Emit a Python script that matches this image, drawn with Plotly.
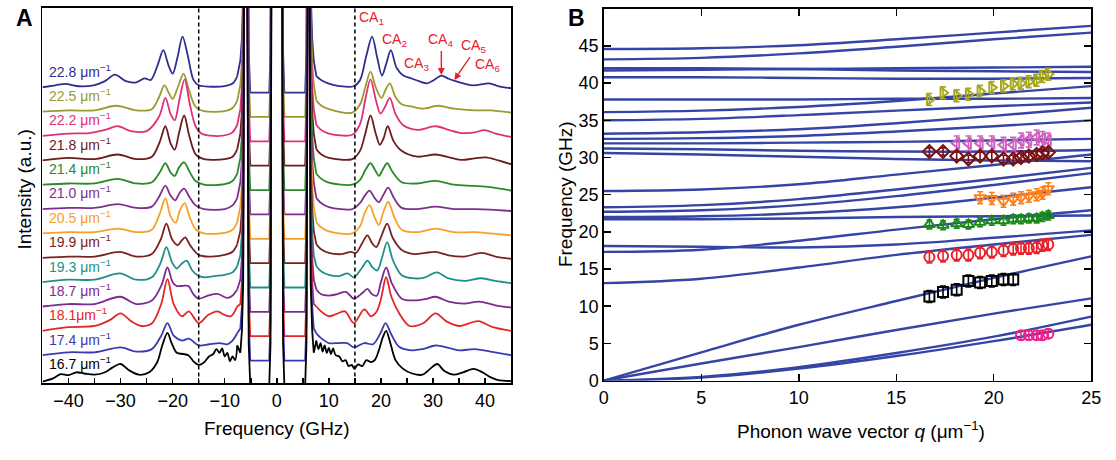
import plotly.graph_objects as go

W, H = 1116, 460
FONT = "Arial, Liberation Sans, sans-serif"

# ---------------- Panel A data: Brillouin spectra (offset stacked) ----------------
q_labels = ["22.8 μm<sup>−1</sup>", "22.5 μm<sup>−1</sup>", "22.2 μm<sup>−1</sup>", "21.8 μm<sup>−1</sup>",
            "21.4 μm<sup>−1</sup>", "21.0 μm<sup>−1</sup>", "20.5 μm<sup>−1</sup>", "19.9 μm<sup>−1</sup>",
            "19.3 μm<sup>−1</sup>", "18.7 μm<sup>−1</sup>", "18.1μm<sup>−1</sup>", "17.4 μm<sup>−1</sup>",
            "16.7 μm<sup>−1</sup>"]
spec_colors = ["#2f2f8f", "#9a9a2e", "#e0307a", "#6b1c1c", "#2a8a2a", "#7d2f8e", "#f7a12a",
               "#7a2222", "#1f9088", "#7d2a90", "#e32626", "#3a3ab4", "#000000"]
spec_offsets = [12, 11, 10, 9, 8, 7, 6, 5, 4, 3, 2, 1, 0]

# (frequency GHz, intensity above baseline) — anti-Stokes (neg) and Stokes (pos) wings
s228_neg = [(-45, 0.0), (-42.5, 0.08), (-40.6, 0.14), (-38, 0.04), (-35.2, 0.08), (-33, 0.25), (-31.1, 0.52),
            (-29, 0.25), (-27, 0.2), (-25.4, 0.36), (-24.2, 0.3), (-22.9, 0.9), (-21.8, 1.52), (-20.8, 0.9),
            (-20.0, 0.56), (-19.1, 1.2), (-18.1, 2.08), (-17.1, 1.3), (-16.0, 0.3), (-15, 0.08), (-12, 0.02),
            (-10, 0.05), (-8.5, 0.15), (-7.6, 0.45)]
s228_pos = [(7.6, 0.45), (8.5, 0.3), (10, 0.15), (12, 0.05), (14.75, 0.04), (16, 0.3), (17.2, 1.3), (18.3, 2.08),
            (19.3, 1.2), (20.2, 0.48), (21.0, 0.95), (21.9, 1.52), (23.0, 0.8), (24.3, 0.48), (25.9, 0.36),
            (27.3, 0.25), (28.8, 0.16), (30.2, 0.3), (31.6, 0.48), (33, 0.35), (34.5, 0.24), (37.6, 0.08),
            (40.8, 0.16), (42.5, 0.05), (45, -0.04)]
s225_neg = [(-45, 0.0), (-40, 0.05), (-35, 0.05), (-30.8, 0.24), (-27, 0.05), (-24, 0.1), (-22.6, 0.6),
            (-21.6, 1.08), (-20.7, 0.75), (-20, 0.52), (-19, 1.0), (-17.9, 1.56), (-16.9, 0.9), (-15.6, 0.2),
            (-14, 0.02), (-10, 0.02), (-8.5, 0.15), (-7.6, 0.45)]
s225_pos = [(7.6, 0.45), (8.5, 0.25), (10, 0.1), (14.5, -0.04), (16, 0.3), (17.0, 1.0), (18.0, 1.64), (19.0, 1.0),
            (20.1, 0.56), (20.9, 0.9), (21.7, 1.16), (22.8, 0.6), (24, 0.3), (26, 0.2), (28, 0.12), (31, 0.24),
            (34, 0.12), (38, 0.05), (41, 0.05), (45, -0.04)]
s222_neg = [(-45, 0.0), (-40, 0.1), (-36, 0.12), (-33, 0.25), (-30.5, 0.4), (-28, 0.2), (-25, 0.2), (-22.6, 0.8),
            (-21.4, 1.56), (-20.4, 0.9), (-19.6, 0.64), (-18.7, 1.5), (-17.7, 2.32), (-16.7, 1.3), (-15.6, 0.4),
            (-14.5, 0.1), (-12, 0.0), (-9.5, 0.05), (-8.5, 0.15), (-7.6, 0.45)]
s222_pos = [(7.6, 0.45), (8.5, 0.25), (10, 0.1), (14.5, 0.05), (16, 0.5), (17, 1.5), (18.0, 2.32), (19.0, 1.5),
            (19.9, 0.92), (20.8, 1.2), (21.7, 1.56), (22.8, 0.9), (24.3, 0.44), (27, 0.25), (30.5, 0.4),
            (33, 0.25), (35.5, 0.12), (38, 0.15), (39.9, 0.24), (42, 0.1), (45, -0.04)]
s218_neg = [(-45, 0.0), (-40, 0.1), (-35, 0.05), (-30.5, 0.24), (-27, 0.05), (-24, 0.15), (-22.5, 0.75),
            (-21.4, 1.4), (-20.4, 0.7), (-19.6, 0.44), (-18.8, 1.1), (-17.8, 1.84), (-16.8, 1.0), (-15.6, 0.25),
            (-14, 0.05), (-10, 0.05), (-8.5, 0.15), (-7.6, 0.45)]
s218_pos = [(7.6, 0.45), (8.5, 0.25), (10, 0.1), (14.5, 0.05), (16, 0.4), (17, 1.1), (18.0, 1.84), (19.0, 1.1),
            (19.8, 0.64), (20.5, 0.9), (21.3, 1.4), (22.4, 0.8), (23.9, 0.4), (27, 0.15), (30.5, 0.24),
            (33.5, 0.1), (35.5, 0.02), (38, 0.08), (40.2, 0.12), (42.5, 0.0), (45, -0.16)]
s214_neg = [(-45, 0.0), (-40, 0.05), (-35, 0.05), (-30.5, 0.24), (-27, 0.05), (-24, 0.1), (-22.5, 0.5),
            (-21.4, 0.88), (-20.4, 0.5), (-19.6, 0.36), (-18.8, 0.7), (-17.8, 0.92), (-16.8, 0.55),
            (-15.6, 0.15), (-14, 0.0), (-10, 0.02), (-8.5, 0.15), (-7.6, 0.45)]
s214_pos = [(7.6, 0.45), (8.5, 0.25), (10, 0.08), (14.5, 0.0), (16, 0.2), (17, 0.6), (18.0, 0.88), (19.0, 0.55),
            (19.6, 0.36), (20.3, 0.6), (21.2, 0.88), (22.3, 0.5), (24, 0.1), (27, 0.05), (30.5, 0.16),
            (34, 0.0), (38, -0.05), (41, -0.1), (45, -0.24)]
s210_neg = [(-45, 0.0), (-40, 0.05), (-35, 0.05), (-30.5, 0.2), (-27, 0.05), (-24, 0.1), (-22.5, 0.55),
            (-21.4, 0.96), (-20.4, 0.55), (-19.5, 0.36), (-18.7, 0.65), (-17.8, 0.84), (-16.8, 0.5),
            (-15.6, 0.15), (-14, 0.0), (-10, 0.0), (-8.5, 0.15), (-7.6, 0.45)]
s210_pos = [(7.6, 0.45), (8.5, 0.25), (10, 0.08), (14.5, 0.0), (16, 0.25), (16.9, 0.55), (17.8, 0.76),
            (18.8, 0.45), (19.6, 0.28), (20.5, 0.6), (21.4, 0.88), (22.5, 0.45), (24, 0.05), (27, 0.0),
            (30.5, 0.1), (34, 0.0), (38, 0.0), (41, -0.02), (45, -0.08)]
s205_neg = [(-45, 0.0), (-40, 0.05), (-35, 0.05), (-30.5, 0.2), (-27, 0.05), (-24, 0.15), (-22.5, 0.8),
            (-21.4, 1.44), (-20.4, 0.7), (-19.4, 0.44), (-18.6, 0.95), (-17.7, 1.24), (-16.7, 0.65),
            (-15.5, 0.15), (-14, 0.0), (-10, 0.02), (-8.5, 0.15), (-7.6, 0.45)]
s205_pos = [(7.6, 0.45), (8.5, 0.25), (10, 0.08), (14.5, 0.0), (16, 0.3), (16.9, 0.85), (17.8, 1.16),
            (18.8, 0.65), (19.6, 0.35), (20.5, 0.9), (21.4, 1.3), (22.5, 0.7), (24, 0.15), (27, 0.05),
            (30.5, 0.2), (34, 0.05), (38, 0.05), (41, 0.0), (45, -0.08)]
s199_neg = [(-45, 0.0), (-40, 0.05), (-35, 0.05), (-30.1, 0.24), (-27, 0.05), (-24, 0.15), (-22.3, 0.75),
            (-21.2, 1.4), (-20.1, 0.75), (-19.0, 0.52), (-18.3, 0.7), (-17.6, 0.84), (-16.6, 0.5), (-15.0, 0.12),
            (-13, 0.05), (-10, 0.12), (-8.5, 0.25), (-7.6, 0.55)]
s199_pos = [(7.6, 0.55), (8.5, 0.35), (10, 0.2), (12.5, 0.15), (14.2, 0.24), (15.2, 0.2), (16.4, 0.6),
            (17.4, 0.92), (18.3, 0.6), (19.1, 0.44), (20.1, 0.9), (21.2, 1.4), (22.3, 0.8), (24, 0.32),
            (26.5, 0.15), (28.5, 0.2), (30.5, 0.24), (33, 0.1), (36, 0.05), (39.4, 0.2), (42, 0.05), (45, -0.04)]
s193_neg = [(-45, 0.0), (-40, 0.1), (-35, 0.1), (-30.1, 0.36), (-27, 0.1), (-24, 0.2), (-22.3, 0.8),
            (-21.2, 1.44), (-20.1, 0.8), (-19.2, 0.56), (-18.3, 0.75), (-17.3, 0.88), (-16.3, 0.5),
            (-15.2, 0.28), (-14, 0.2), (-12, 0.25), (-10, 0.3), (-8.5, 0.4), (-7.6, 0.65)]
s193_pos = [(7.6, 0.65), (8.5, 0.45), (10, 0.3), (12, 0.25), (13.6, 0.36), (14.8, 0.2), (16.4, 0.6),
            (17.4, 0.88), (18.4, 0.6), (19.3, 0.48), (20.2, 1.0), (21.2, 1.64), (22.3, 0.9), (24, 0.28),
            (26.5, 0.15), (28.5, 0.2), (30.7, 0.4), (33, 0.15), (36, 0.05), (39.3, 0.16), (42, 0.05), (45, -0.04)]
s187_neg = [(-45, 0.0), (-40, 0.1), (-35, 0.1), (-30.1, 0.4), (-27, 0.1), (-24, 0.25), (-22.1, 0.9),
            (-21.0, 1.6), (-20.0, 1.0), (-19.2, 0.84), (-18.0, 0.85), (-17.0, 0.84), (-16.0, 0.5),
            (-15.0, 0.32), (-13.2, 0.45), (-11.4, 0.52), (-9.5, 0.35), (-8.5, 0.45), (-7.6, 0.7)]
s187_pos = [(7.6, 0.7), (8.5, 0.5), (10, 0.45), (11.5, 0.5), (13.3, 0.6), (14.8, 0.32), (16.4, 0.55),
            (17.4, 0.72), (18.3, 0.5), (19.2, 0.44), (20.0, 1.0), (21.0, 1.6), (22.1, 0.95), (24, 0.32),
            (26.5, 0.25), (28.5, 0.3), (30.5, 0.4), (33, 0.2), (36, 0.12), (38.8, 0.2), (42, 0.05), (45, -0.04)]
s181_neg = [(-45, 0.0), (-40, 0.15), (-35, 0.2), (-32, 0.45), (-30, 0.72), (-28, 0.4), (-26, 0.2), (-24, 0.3),
            (-22.2, 1.1), (-21.0, 2.12), (-19.8, 1.1), (-18.2, 0.6), (-16.9, 0.8), (-15.0, 0.32), (-13.2, 0.65),
            (-11.4, 0.8), (-10, 0.65), (-8.8, 0.6), (-7.6, 1.0)]
s181_pos = [(7.6, 1.0), (8.5, 0.8), (10, 0.6), (11.5, 0.7), (13.1, 0.8), (14.8, 0.32), (16.8, 0.88), (18.1, 0.6),
            (19.2, 0.8), (20.0, 1.3), (21.0, 2.2), (22.0, 1.4), (23.5, 0.72), (25.5, 0.2), (28, 0.3),
            (30.5, 0.72), (32.5, 0.4), (35, 0.2), (38.7, 0.4), (41.5, 0.15), (45, 0.0)]
s174_neg = [(-45, 0.0), (-40, 0.12), (-35, 0.12), (-30, 0.32), (-27, 0.15), (-24, 0.25), (-22.2, 0.8),
            (-21.0, 1.32), (-19.8, 0.8), (-18.2, 0.6), (-16.9, 0.68), (-15.0, 0.4), (-13, 0.45), (-11, 0.5),
            (-9.5, 0.45), (-8.5, 0.6), (-7.6, 0.9)]
s174_pos = [(7.6, 0.9), (8.5, 0.7), (10, 0.5), (12, 0.5), (13.5, 0.5), (14.8, 0.32), (16.8, 0.5), (18.5, 0.45),
            (19.9, 0.9), (20.9, 1.32), (22.0, 0.85), (23.5, 0.35), (26, 0.2), (28, 0.25), (30.5, 0.4),
            (33, 0.3), (35, 0.2), (38, 0.25), (41, 0.15), (45, 0.0)]
s167_neg = [(-45, -0.08), (-43, 0.05), (-41.5, 0.22), (-40, 0.18), (-38.5, 0.3), (-37, 0.25), (-35, 0.2),
            (-33, 0.3), (-31.5, 0.5), (-30, 0.64), (-28.5, 0.4), (-26.5, 0.2), (-24.5, 0.3), (-23, 0.7),
            (-22, 1.4), (-21, 1.92), (-20.2, 1.5), (-19.2, 1.1), (-18, 1.05), (-17, 1.0), (-16, 0.75),
            (-15, 0.6), (-14, 0.7), (-13, 0.95), (-12.2, 1.05), (-11.6, 1.25), (-11, 1.1), (-10.5, 1.28),
            (-10, 0.95), (-9.5, 1.1), (-9, 0.75), (-8.5, 0.95), (-8, 0.8), (-7.6, 1.4)]
s167_pos = [(7.6, 1.6), (8.0, 1.25), (8.4, 1.5), (8.8, 1.15), (9.2, 1.4), (9.6, 1.1), (10.0, 1.3), (10.4, 1.05),
            (10.8, 1.28), (11.3, 1.0), (12, 0.95), (12.6, 0.75), (13.2, 0.8), (13.8, 0.55), (14.4, 0.6),
            (14.9, 0.44), (15.6, 0.62), (16.4, 0.55), (17.2, 0.8), (18.0, 0.72), (18.8, 0.8), (19.6, 1.2),
            (20.3, 1.7), (21.0, 2.0), (21.8, 1.5), (22.8, 0.8), (24.2, 0.45), (26, 0.25), (28, 0.2),
            (29.5, 0.45), (30.8, 0.64), (32.2, 0.35), (34, 0.2), (35.8, 0.3), (37.8, 0.44), (39.5, 0.3),
            (41, 0.1), (42.5, -0.02), (45, -0.06)]

spec_neg = [s228_neg, s225_neg, s222_neg, s218_neg, s214_neg, s210_neg, s205_neg,
            s199_neg, s193_neg, s187_neg, s181_neg, s174_neg, s167_neg]
spec_pos = [s228_pos, s225_pos, s222_pos, s218_pos, s214_pos, s210_pos, s205_pos,
            s199_pos, s193_pos, s187_pos, s181_pos, s174_pos, s167_pos]

# central part (strong ±6 GHz peaks, notch-filter plateaus, elastic line) — identical for all spectra
center_f = [-7.0, -6.7, -6.45, -6.25, -5.75, -5.4, -5.1, -1.45, -1.2, -1.0,
            1.0, 1.2, 1.45, 5.45, 5.7, 6.0, 6.25, 6.5, 6.8, 7.1]
center_i = [1.1, 2.0, 4.0, 20.0, 20.0, 1.5, -0.22, -0.22, 1.5, 20.0,
            20.0, 1.5, -0.22, -0.22, 1.5, 20.0, 20.0, 4.0, 2.0, 1.1]

# ---------------- Panel B data: dispersion ----------------
q_grid = [0, 5, 10, 15, 20, 25]
branches = [
    [44.6, 44.7, 45.1, 45.9, 46.8, 47.7],
    [43.2, 43.4, 44.0, 44.9, 45.9, 46.8],
    [42.0, 42.0, 41.9, 41.7, 41.6, 41.5],
    [41.7, 41.8, 41.9, 42.0, 42.1, 42.2],
    [40.8, 40.8, 40.7, 40.6, 40.6, 40.7],
    [37.8, 37.8, 37.8, 37.9, 37.9, 38.0],
    [36.1, 36.3, 36.8, 37.6, 38.6, 39.6],
    [35.0, 35.2, 35.7, 36.3, 36.9, 37.4],
    [33.2, 33.4, 33.8, 34.6, 35.6, 36.7],
    [32.5, 32.6, 32.9, 33.5, 34.2, 35.0],
    [31.9, 31.9, 32.0, 32.1, 32.3, 32.5],
    [31.2, 31.1, 30.9, 30.8, 30.8, 31.0],
    [30.6, 30.4, 30.1, 29.8, 29.6, 29.5],
    [25.5, 25.7, 26.4, 27.7, 29.0, 30.4],
    [23.3, 23.6, 24.4, 25.7, 27.1, 28.6],
    [22.7, 22.9, 23.6, 24.8, 26.3, 27.9],
    [22.0, 22.1, 22.5, 23.3, 24.6, 26.0],
    [21.7, 21.7, 21.8, 22.0, 22.1, 22.2],
    [17.3, 17.6, 18.8, 20.3, 21.7, 22.9],
    [18.1, 18.0, 17.9, 18.3, 19.2, 20.2],
    [13.1, 13.7, 15.2, 16.9, 18.3, 19.6],
    [0.0, 3.8, 7.5, 10.7, 13.8, 16.7],
    [0.0, 2.3, 4.5, 6.8, 9.0, 11.05],
    [0.0, 0.5, 1.8, 3.7, 5.9, 8.6],
    [0.0, 0.4, 1.6, 3.3, 5.3, 7.5],
]

q_all = [16.7, 17.4, 18.1, 18.7, 19.3, 19.9, 20.5, 21.0, 21.4, 21.8, 22.2, 22.5, 22.8]
olive_f = [37.8, 38.7, 38.3, 38.5, 38.9, 39.4, 39.6, 39.9, 40.0, 40.2, 40.4, 40.9, 41.2]
pink_q = [18.1, 18.7, 19.3, 19.9, 20.5, 21.0, 21.4, 21.8, 22.2, 22.5, 22.8]
pink_f = [31.9, 31.9, 31.9, 31.9, 31.7, 31.7, 32.3, 32.4, 32.7, 32.5, 32.3]
maroon_f = [30.8, 30.8, 30.2, 29.8, 30.2, 30.2, 29.8, 29.8, 30.0, 30.2, 30.4, 30.6, 30.7]
orange_q = [19.3, 19.9, 20.5, 21.0, 21.4, 21.8, 22.2, 22.5, 22.8]
orange_f = [24.6, 24.5, 24.1, 24.4, 24.6, 24.8, 25.0, 25.2, 25.8]
green_f = [21.0, 20.9, 21.1, 21.0, 21.3, 21.5, 21.5, 21.7, 21.7, 21.8, 21.8, 22.0, 22.2]
red_f = [16.6, 16.75, 16.9, 16.9, 17.2, 17.3, 17.5, 17.7, 17.8, 17.8, 17.9, 18.2, 18.3]
black_q = [16.7, 17.4, 18.1, 18.7, 19.3, 19.9, 20.5, 21.0]
black_f = [11.3, 11.9, 12.2, 13.4, 13.2, 13.4, 13.6, 13.6]
magenta_q = [21.4, 21.8, 22.2, 22.5, 22.8]
magenta_f = [6.1, 6.1, 6.1, 6.1, 6.3]

point_series = [
    # (q, f, error, symbol, colour)
    (q_all, olive_f, 0.8, "triangle-right-open", "#a8a820"),
    (pink_q, pink_f, 1.0, "triangle-left-open", "#d060c0"),
    (q_all, maroon_f, 0.5, "diamond-open", "#7a1010"),
    (orange_q, orange_f, 0.8, "triangle-down-open", "#ff7f1a"),
    (q_all, green_f, 0.6, "triangle-up-open", "#1a8a1a"),
    (q_all, red_f, 0.8, "circle-open", "#e8202a"),
    (black_q, black_f, 0.8, "square-open", "#000000"),
    (magenta_q, magenta_f, 0.6, "circle-open", "#f0208a"),
]

# ---------------- Build figure ----------------
fig = go.Figure()

for lab, col, off, neg, pos in zip(q_labels, spec_colors, spec_offsets, spec_neg, spec_pos):
    lw = 1.8
    fig.add_trace(go.Scatter(x=[p[0] for p in neg], y=[off + p[1] for p in neg], mode="lines",
                             line=dict(color=col, width=lw, shape="spline", smoothing=0.9),
                             xaxis="x", yaxis="y", hoverinfo="skip"))
    cx = [neg[-1][0]] + center_f + [pos[0][0]]
    cy = [off + neg[-1][1]] + [off + v for v in center_i] + [off + pos[0][1]]
    fig.add_trace(go.Scatter(x=cx, y=cy, mode="lines", line=dict(color=col, width=lw),
                             xaxis="x", yaxis="y", hoverinfo="skip"))
    fig.add_trace(go.Scatter(x=[p[0] for p in pos], y=[off + p[1] for p in pos], mode="lines",
                             line=dict(color=col, width=lw, shape="spline", smoothing=0.9),
                             xaxis="x", yaxis="y", hoverinfo="skip"))

for br in branches:
    fig.add_trace(go.Scatter(x=q_grid, y=br, mode="lines",
                             line=dict(color="#3545a5", width=2.4, shape="spline", smoothing=1.0),
                             xaxis="x2", yaxis="y2", hoverinfo="skip"))

for qs, fs, err, sym, col in point_series:
    fig.add_trace(go.Scatter(x=qs, y=fs, mode="markers",
                             marker=dict(symbol=sym, size=10, color=col, line=dict(color=col, width=2)),
                             error_y=dict(type="constant", value=err, color=col, thickness=1.6, width=3),
                             xaxis="x2", yaxis="y2", hoverinfo="skip"))

axis_common = dict(showgrid=False, zeroline=False, showline=True, linecolor="black", linewidth=1.6,
                   tickcolor="black", tickwidth=1.5, tickfont=dict(family=FONT, size=18, color="black"))

annotations = []
# spectrum labels
for lab, col, off in zip(q_labels, spec_colors, spec_offsets):
    annotations.append(dict(x=-44.2, y=off + 0.68, xref="x", yref="y", text=lab, showarrow=False,
                            xanchor="left", yanchor="middle",
                            font=dict(family=FONT, size=14, color=col)))

# CA labels
ca_red = "#e8202a"
for txt, x, y in [("CA<sub>1</sub>", 18.2, 14.85), ("CA<sub>2</sub>", 22.6, 13.95), ("CA<sub>3</sub>", 26.8, 12.95),
                  ("CA<sub>4</sub>", 31.5, 13.95), ("CA<sub>5</sub>", 37.8, 13.7), ("CA<sub>6</sub>", 40.5, 12.9)]:
    annotations.append(dict(x=x, y=y, xref="x", yref="y", text=txt, showarrow=False,
                            font=dict(family=FONT, size=14, color=ca_red)))
annotations.append(dict(x=31.6, y=12.5, ax=31.6, ay=13.55, xref="x", yref="y", axref="x", ayref="y",
                        text="", showarrow=True, arrowhead=2, arrowsize=1, arrowwidth=1.4, arrowcolor=ca_red))
annotations.append(dict(x=34.1, y=12.3, ax=37.3, ay=13.3, xref="x", yref="y", axref="x", ayref="y",
                        text="", showarrow=True, arrowhead=2, arrowsize=1, arrowwidth=1.4, arrowcolor=ca_red))

def px(xp, yp):
    return xp / W, 1 - yp / H

for txt, xp, yp, rot, sz in [
    ("Frequency (GHz)", 276, 438, 0, 19),
    ("Intensity (a.u.)", 20, 194, -90, 19),
    ("Frequency (GHz)", 568, 198, -90, 19),
    ("Phonon wave vector <i>q</i> (μm<sup>−1</sup>)", 868, 440, 0, 19),
    ("<b>A</b>", 20, 18, 0, 23),
    ("<b>B</b>", 579, 18, 0, 23),
]:
    xx, yy = px(xp, yp)
    annotations.append(dict(x=xx, y=yy, xref="paper", yref="paper", text=txt, showarrow=False,
                            textangle=rot, xanchor="center", yanchor="middle",
                            font=dict(family=FONT, size=sz, color="black")))

shapes = []
for xv in (-15, 15):
    shapes.append(dict(type="line", xref="x", yref="y domain", x0=xv, x1=xv, y0=0, y1=1,
                       line=dict(color="black", width=1.5, dash="4px,3px")))

fig.update_layout(
    width=W, height=H, margin=dict(l=0, r=0, t=0, b=0),
    paper_bgcolor="white", plot_bgcolor="white", showlegend=False,
    font=dict(family=FONT, color="black"),
    xaxis=dict(domain=[38 / W, 513 / W], range=[-45, 45], anchor="y",
               tickvals=[-40, -30, -20, -10, 0, 10, 20, 30, 40], ticks="inside", ticklen=5, mirror=True,
               minor=dict(tickvals=[-35, -25, -15, -5, 5, 15, 25, 35], ticks="inside", ticklen=5,
                          tickcolor="black", tickwidth=1.5),
               **axis_common),
    yaxis=dict(domain=[1 - 392 / H, 1 - 8 / H], range=[-0.16, 15.26], anchor="x",
               showticklabels=False, ticks="", mirror=True, **axis_common),
    xaxis2=dict(domain=[607 / W, 1101 / W], range=[0, 25], anchor="y2",
                tickvals=[0, 5, 10, 15, 20, 25], ticks="inside", ticklen=7, mirror="ticks", **axis_common),
    yaxis2=dict(domain=[1 - 389 / H, 1 - 9 / H], range=[0, 50], anchor="x2",
                tickvals=[0, 5, 10, 15, 20, 25, 30, 35, 40, 45], ticks="inside", ticklen=7, mirror="ticks",
                **axis_common),
    annotations=annotations, shapes=shapes,
)

fig.write_html("out.html", config={"displayModeBar": False, "staticPlot": True},
               post_script="document.body.style.margin='0px';document.body.style.overflow='hidden';")
